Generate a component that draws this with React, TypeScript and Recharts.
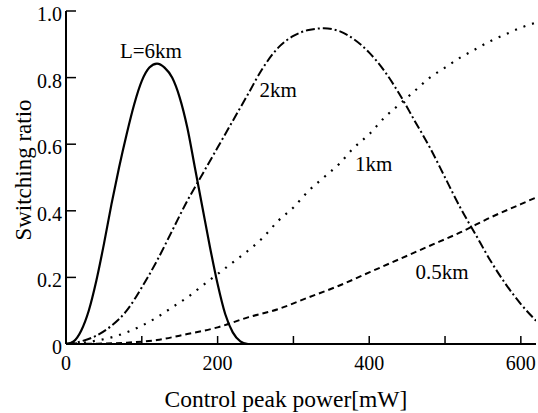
import React from 'react';
import { LineChart, Line, XAxis, YAxis, ReferenceDot } from 'recharts';

// L = 6 km (solid)
const power6km = [0, 10, 20, 30, 40, 50, 60, 70, 80, 90, 100, 110, 120, 130, 140, 150, 160, 170, 180, 190, 200, 210, 220, 230, 240];
const ratio6km = [0, 0.008, 0.04, 0.1, 0.19, 0.3, 0.42, 0.53, 0.63, 0.72, 0.79, 0.83, 0.842, 0.83, 0.8, 0.74, 0.65, 0.53, 0.41, 0.29, 0.18, 0.09, 0.035, 0.008, 0];

// L = 2 km (dash-dot)
const power2km = [0, 20, 40, 60, 80, 100, 120, 140, 160, 180, 200, 220, 240, 260, 280, 300, 320, 340, 360, 380, 400, 420, 440, 460, 480, 500, 520, 540, 560, 580, 600, 620];
const ratio2km = [0, 0.008, 0.025, 0.055, 0.1, 0.17, 0.25, 0.34, 0.43, 0.51, 0.59, 0.67, 0.75, 0.83, 0.89, 0.925, 0.943, 0.948, 0.94, 0.915, 0.875, 0.82, 0.75, 0.67, 0.59, 0.5, 0.41, 0.33, 0.25, 0.18, 0.12, 0.07];

// L = 1 km (dotted)
const power1km = [0, 20, 40, 60, 80, 100, 120, 140, 160, 180, 200, 220, 240, 260, 280, 300, 320, 340, 360, 380, 400, 420, 440, 460, 480, 500, 520, 540, 560, 580, 600, 620];
const ratio1km = [0, 0.003, 0.01, 0.02, 0.035, 0.055, 0.08, 0.11, 0.14, 0.175, 0.21, 0.245, 0.28, 0.32, 0.37, 0.41, 0.46, 0.5, 0.54, 0.59, 0.63, 0.68, 0.72, 0.76, 0.8, 0.83, 0.86, 0.885, 0.91, 0.93, 0.95, 0.965];

// L = 0.5 km (dashed)
const power05km = [0, 40, 80, 120, 160, 200, 240, 280, 320, 360, 400, 440, 480, 520, 560, 600, 620];
const ratio05km = [0, 0.001, 0.004, 0.012, 0.03, 0.05, 0.08, 0.105, 0.14, 0.175, 0.215, 0.255, 0.295, 0.335, 0.38, 0.42, 0.44];

const xTicks = [0, 100, 200, 300, 400, 500, 600];
const xTopTicks = [100, 200, 300, 400, 500, 600];
const yTicks = [0, 0.2, 0.4, 0.6, 0.8, 1.0];
const yRightTicks = [0.2, 0.4, 0.6, 0.8];

const curveLabels = [
  { text: 'L=6km', x: 112, y: 0.88 },
  { text: '2km', x: 280, y: 0.763 },
  { text: '1km', x: 406, y: 0.54 },
  { text: '0.5km', x: 496, y: 0.216 },
];

const toPoints = (xs: number[], ys: number[]) => xs.map((x, i) => ({ x, y: ys[i] }));

const FONT = '"Liberation Serif", "Times New Roman", Times, serif';
const INK = '#000';
const serif = { fontFamily: FONT };

const BottomTick = (props: any) => {
  const { x, y, payload } = props;
  return (
    <g>
      <line x1={x} y1={y} x2={x} y2={y - 8} stroke={INK} strokeWidth={1.5} />
      {payload.value % 200 === 0 && (
        <text x={x} y={y + 26} textAnchor="middle" style={serif} fontSize={20} fill={INK}>
          {payload.value}
        </text>
      )}
    </g>
  );
};

const TopTick = (props: any) => {
  const { x, y } = props;
  return <line x1={x} y1={y} x2={x} y2={y + 8} stroke={INK} strokeWidth={1.5} />;
};

const LeftTick = (props: any) => {
  const { x, y, payload } = props;
  const v = payload.value;
  return (
    <g>
      <line x1={x} y1={y} x2={x + 10} y2={y} stroke={INK} strokeWidth={1.5} />
      <text x={x - 4} y={y + 10} textAnchor="end" style={serif} fontSize={20} fill={INK}>
        {v === 0 ? '0' : v.toFixed(1)}
      </text>
    </g>
  );
};

const RightTick = (props: any) => {
  const { x, y } = props;
  return <line x1={x} y1={y} x2={x - 10} y2={y} stroke={INK} strokeWidth={1.5} />;
};

const YTitle = () => (
  <text
    x={23}
    y={170}
    transform="rotate(-90 23 170)"
    textAnchor="middle"
    dominantBaseline="central"
    style={serif}
    fontSize={23}
    fill={INK}
  >
    Switching ratio
  </text>
);

const XTitle = () => (
  <text x={286} y={407} textAnchor="middle" style={serif} fontSize={23.5} fill={INK}>
    Control peak power[mW]
  </text>
);

const CurveLabel = (props: any) => {
  const { viewBox, value } = props;
  return (
    <text
      x={viewBox.x + viewBox.width / 2}
      y={viewBox.y + viewBox.height / 2}
      textAnchor="middle"
      dominantBaseline="central"
      style={serif}
      fontSize={21}
      fill={INK}
    >
      {value}
    </text>
  );
};

const App: React.FC = () => {
  return (
    <div style={{ position: 'absolute', left: 0, top: 0, width: 538, height: 413, background: '#fff' }}>
      <LineChart width={538} height={413} margin={{ top: 11, right: 2, left: 0, bottom: 0 }}>
        <XAxis
          xAxisId="bottom"
          type="number"
          dataKey="x"
          domain={[0, 620]}
          ticks={xTicks}
          interval={0}
          allowDataOverflow
          height={69}
          tickSize={0}
          tickMargin={0}
          tick={<BottomTick />}
          axisLine={{ stroke: INK, strokeWidth: 2 }}
          label={{ content: <XTitle /> }}
        />
        <XAxis
          xAxisId="top"
          orientation="top"
          type="number"
          dataKey="x"
          domain={[0, 620]}
          ticks={xTopTicks}
          interval={0}
          allowDataOverflow
          height={0}
          tickSize={0}
          tickMargin={0}
          tick={<TopTick />}
          axisLine={{ stroke: INK, strokeWidth: 2 }}
        />
        <YAxis
          yAxisId="left"
          type="number"
          domain={[0, 1]}
          ticks={yTicks}
          interval={0}
          allowDataOverflow
          width={66}
          tickSize={0}
          tickMargin={0}
          tick={<LeftTick />}
          axisLine={{ stroke: INK, strokeWidth: 2 }}
          label={{ content: <YTitle /> }}
        />
        <YAxis
          yAxisId="right"
          orientation="right"
          type="number"
          domain={[0, 1]}
          ticks={yRightTicks}
          interval={0}
          allowDataOverflow
          width={0}
          tickSize={0}
          tickMargin={0}
          tick={<RightTick />}
          axisLine={{ stroke: INK, strokeWidth: 2 }}
        />

        <Line
          xAxisId="bottom"
          yAxisId="left"
          data={toPoints(power6km, ratio6km)}
          dataKey="y"
          type="monotone"
          stroke={INK}
          strokeWidth={2.2}
          dot={false}
          activeDot={false}
          isAnimationActive={false}
        />
        <Line
          xAxisId="bottom"
          yAxisId="left"
          data={toPoints(power2km, ratio2km)}
          dataKey="y"
          type="monotone"
          stroke={INK}
          strokeWidth={2}
          strokeDasharray="9 3 2 3"
          dot={false}
          activeDot={false}
          isAnimationActive={false}
        />
        <Line
          xAxisId="bottom"
          yAxisId="left"
          data={toPoints(power1km, ratio1km)}
          dataKey="y"
          type="monotone"
          stroke={INK}
          strokeWidth={2.2}
          strokeDasharray="2 7"
          dot={false}
          activeDot={false}
          isAnimationActive={false}
        />
        <Line
          xAxisId="bottom"
          yAxisId="left"
          data={toPoints(power05km, ratio05km)}
          dataKey="y"
          type="monotone"
          stroke={INK}
          strokeWidth={2}
          strokeDasharray="6 4"
          dot={false}
          activeDot={false}
          isAnimationActive={false}
        />

        {curveLabels.map(l => (
          <ReferenceDot
            key={l.text}
            xAxisId="bottom"
            yAxisId="left"
            x={l.x}
            y={l.y}
            r={0}
            fill="none"
            stroke="none"
            label={{ value: l.text, content: <CurveLabel /> }}
          />
        ))}
      </LineChart>
    </div>
  );
};

export default App;
